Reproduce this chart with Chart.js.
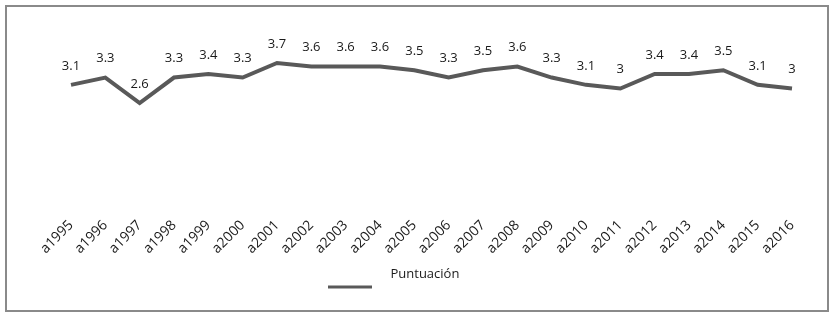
<!DOCTYPE html>
<html><head><meta charset="utf-8">
<script src="https://cdn.jsdelivr.net/npm/chart.js@4"></script>
<style>
html,body{margin:0;padding:0;background:#fff;}
#wrap{position:relative;width:836px;height:317px;}
#frame{position:absolute;left:5px;top:5px;width:820px;height:303px;border:2px solid #8a8a8a;pointer-events:none;}
canvas{position:absolute;left:0;top:0;}
</style></head>
<body><div id="wrap"><canvas id="c" width="836" height="317"></canvas><div id="frame"></div></div>
<script>
const categories = ["a1995","a1996","a1997","a1998","a1999","a2000","a2001","a2002","a2003","a2004","a2005","a2006","a2007","a2008","a2009","a2010","a2011","a2012","a2013","a2014","a2015","a2016"];
const puntuacion = [3.1,3.3,2.6,3.3,3.4,3.3,3.7,3.6,3.6,3.6,3.5,3.3,3.5,3.6,3.3,3.1,3,3.4,3.4,3.5,3.1,3];
const seriesName = "Puntuación";

const FONT = '"Open Sans"';
const LINE_COLOR = '#595959';

// legend marker: line sample drawn below the text centre, with leading blank space
const legendMarker = document.createElement('canvas');
legendMarker.width = 313; legendMarker.height = 30;
(function(){
  const g = legendMarker.getContext('2d');
  g.fillStyle = LINE_COLOR;
  g.fillRect(257, 26, 44, 3);
})();

const labelPlugin = {
  id:'valLabels',
  afterDatasetsDraw(chart){
    const ctx = chart.ctx;
    const meta = chart.getDatasetMeta(0);
    ctx.save();
    ctx.font = '13px ' + FONT;
    ctx.fillStyle = '#1a1a1a';
    ctx.textAlign = 'center';
    ctx.textBaseline = 'middle';
    meta.data.forEach((pt,i)=>{
      ctx.fillText(String(puntuacion[i]), pt.x, pt.y - 19);
    });
    ctx.restore();
  }
};

Chart.defaults.font.family = FONT;
new Chart(document.getElementById('c'), {
  type:'line',
  data:{labels:categories,datasets:[{label:seriesName,data:puntuacion,borderColor:LINE_COLOR,backgroundColor:LINE_COLOR,borderWidth:4,pointRadius:0,tension:0,fill:false,pointStyle:legendMarker}]},
  options:{
    responsive:false,animation:false,
    layout:{padding:{left:71,right:44,top:52,bottom:26}},
    scales:{
      x:{offset:false,grid:{display:false,drawTicks:false},border:{display:false},
         afterFit(scale){ scale.height = 70; },
         ticks:{minRotation:45,maxRotation:45,autoSkip:false,color:'#1a1a1a',font:{size:14,lineHeight:1},padding:20}},
      y:{display:false,min:0,max:4}
    },
    plugins:{
      legend:{position:'bottom',align:'start',labels:{usePointStyle:true,pointStyleWidth:313,color:'#1a1a1a',font:{size:13},padding:0}},
      tooltip:{enabled:false}
    }
  },
  plugins:[labelPlugin]
});
</script></body></html>
